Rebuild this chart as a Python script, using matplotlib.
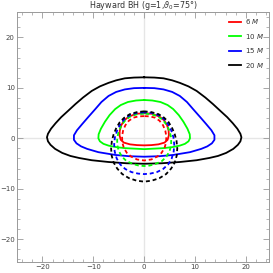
"""
Ring images around a Hayward black hole, direct (solid) and secondary (dashed).
"""
import numpy as np
from matplotlib import pyplot as plt

# ring radii and colours
radii = ["6", "10", "15", "20"]
colors = ["#ff0000", "#00ff00", "#0000ff", "#000000"]

# direct images, left half only (top centre -> left side -> bottom centre)
red_x = [0, -1.6, -3.0, -3.9, -4.5, -4.8, -4.85, -4.6, -4.0, -2.8, -1.4, 0]
red_y = [5.0, 4.85, 4.3, 3.6, 2.6, 1.5, 0.6, -0.3, -0.85, -1.2, -1.35, -1.4]

green_x = [0, -1.6, -3.2, -4.6, -5.7, -6.8, -7.7, -8.5, -8.95, -9.0, -8.7, -8.0,
           -7.0, -5.5, -3.8, 0]
green_y = [7.6, 7.5, 7.2, 6.6, 5.8, 4.6, 3.3, 1.9, 0.8, 0.0, -0.6, -1.1,
           -1.45, -1.75, -1.95, -2.15]

blue_x = [0, -2.0, -3.8, -5.5, -7.0, -8.4, -9.6, -11.0, -12.2, -13.2, -13.8, -13.8,
          -13.3, -12.4, -11.2, -9.0, -5.7, -3.0, 0]
blue_y = [10.0, 9.95, 9.7, 9.2, 8.4, 7.2, 5.8, 4.2, 2.8, 1.6, 0.6, -0.3,
          -1.0, -1.6, -2.1, -2.75, -3.3, -3.55, -3.65]

black_x = [0, -2.0, -3.8, -5.5, -7.0, -8.7, -10.3, -12.0, -13.5, -15.0, -16.3, -17.4,
           -18.3, -18.9, -19.1, -18.9, -18.4, -17.5, -16.1, -14.5, -12.8, -10.3,
           -7.0, -3.5, 0]
black_y = [12.1, 12.05, 11.9, 11.5, 11.0, 10.3, 9.4, 8.1, 6.8, 5.4, 4.2, 3.0,
           1.9, 0.9, 0.2, -0.6, -1.3, -2.1, -2.9, -3.5, -3.9, -4.35,
           -4.7, -4.95, -5.05]

# secondary images, left half only
red2_x = [0, -1.1, -2.1, -3.0, -3.7, -4.15, -4.35, -4.3, -4.0, -3.4, -2.6, -1.4, 0]
red2_y = [4.4, 4.35, 4.1, 3.5, 2.6, 1.5, 0.4, -0.8, -1.9, -2.9, -3.6, -4.2, -4.4]

green2_x = [0, -1.3, -2.6, -3.6, -4.4, -5.0, -5.3, -5.3, -5.0, -4.4, -3.5, -2.2, -1.1, 0]
green2_y = [4.9, 4.8, 4.4, 3.7, 2.7, 1.4, 0.1, -1.3, -2.5, -3.6, -4.5, -5.1, -5.4, -5.5]

blue2_x = [0, -1.4, -2.7, -3.8, -4.7, -5.3, -5.75, -5.9, -5.8, -5.4, -4.7, -3.7,
           -2.5, -1.2, 0]
blue2_y = [5.15, 5.05, 4.65, 3.9, 2.8, 1.6, 0.2, -1.2, -2.6, -4.0, -5.2, -6.1,
           -6.7, -7.0, -7.1]

black2_x = [0, -1.4, -2.8, -3.9, -4.8, -5.5, -6.0, -6.35, -6.5, -6.4, -6.0, -5.3,
            -4.3, -3.0, -1.5, 0]
black2_y = [5.35, 5.2, 4.8, 4.1, 3.2, 2.0, 0.8, -0.5, -2.0, -3.4, -4.8, -6.0,
            -7.1, -7.9, -8.4, -8.6]

direct = [(red_x, red_y), (green_x, green_y), (blue_x, blue_y), (black_x, black_y)]
secondary = [(red2_x, red2_y), (green2_x, green2_y), (blue2_x, blue2_y), (black2_x, black2_y)]


# the curves are symmetric about x = 0, so close each half with its mirror
def full_curve(hx, hy):
  hx = np.array(hx, dtype=float)
  hy = np.array(hy, dtype=float)
  x = np.concatenate([hx, -hx[::-1][1:]])
  y = np.concatenate([hy, hy[::-1][1:]])
  return x, y


fig = plt.figure(figsize=(2.73, 2.73), dpi=100)
ax = fig.add_axes([0.062, 0.041, 0.923, 0.914])

ax.axhline(0, color="#e6e6e6", lw=1.0, zorder=0)
ax.axvline(0, color="#e6e6e6", lw=1.0, zorder=0)

for (hx, hy), c, r in zip(direct, colors, radii):
  x, y = full_curve(hx, hy)
  ax.plot(x, y, color=c, lw=1.3, label=r + r" $M$")

for (hx, hy), c in zip(secondary, colors):
  x, y = full_curve(hx, hy)
  ax.plot(x, y, color=c, lw=1.3, linestyle=(0, (2.2, 1.6)))

ax.set_xlim(-25, 24.5)
ax.set_ylim(-24.5, 25)

ax.set_xticks([-20, -10, 0, 10, 20])
ax.set_yticks([-20, -10, 0, 10, 20])
ax.set_xticks(np.arange(-24, 25, 2), minor=True)
ax.set_yticks(np.arange(-24, 25, 2), minor=True)
ax.tick_params(which="both", direction="in", top=True, right=True,
               color="#999999", labelsize=5, labelcolor="#444444", pad=1.5)
ax.tick_params(which="major", length=4, width=0.6)
ax.tick_params(which="minor", length=2, width=0.5)
for s in ax.spines.values():
  s.set_color("#999999")
  s.set_linewidth(0.7)

ax.set_title(r"Hayward BH (g=1,$\vartheta_0$=75°)", fontsize=5.8, color="#333333", pad=0.8)

leg = ax.legend(loc="upper right", frameon=False, fontsize=5, handlelength=1.7,
                handletextpad=0.6, labelspacing=0.8, borderaxespad=0.3)
for t in leg.get_texts():
  t.set_color("#333333")

fig.savefig("out.png", dpi=100)
